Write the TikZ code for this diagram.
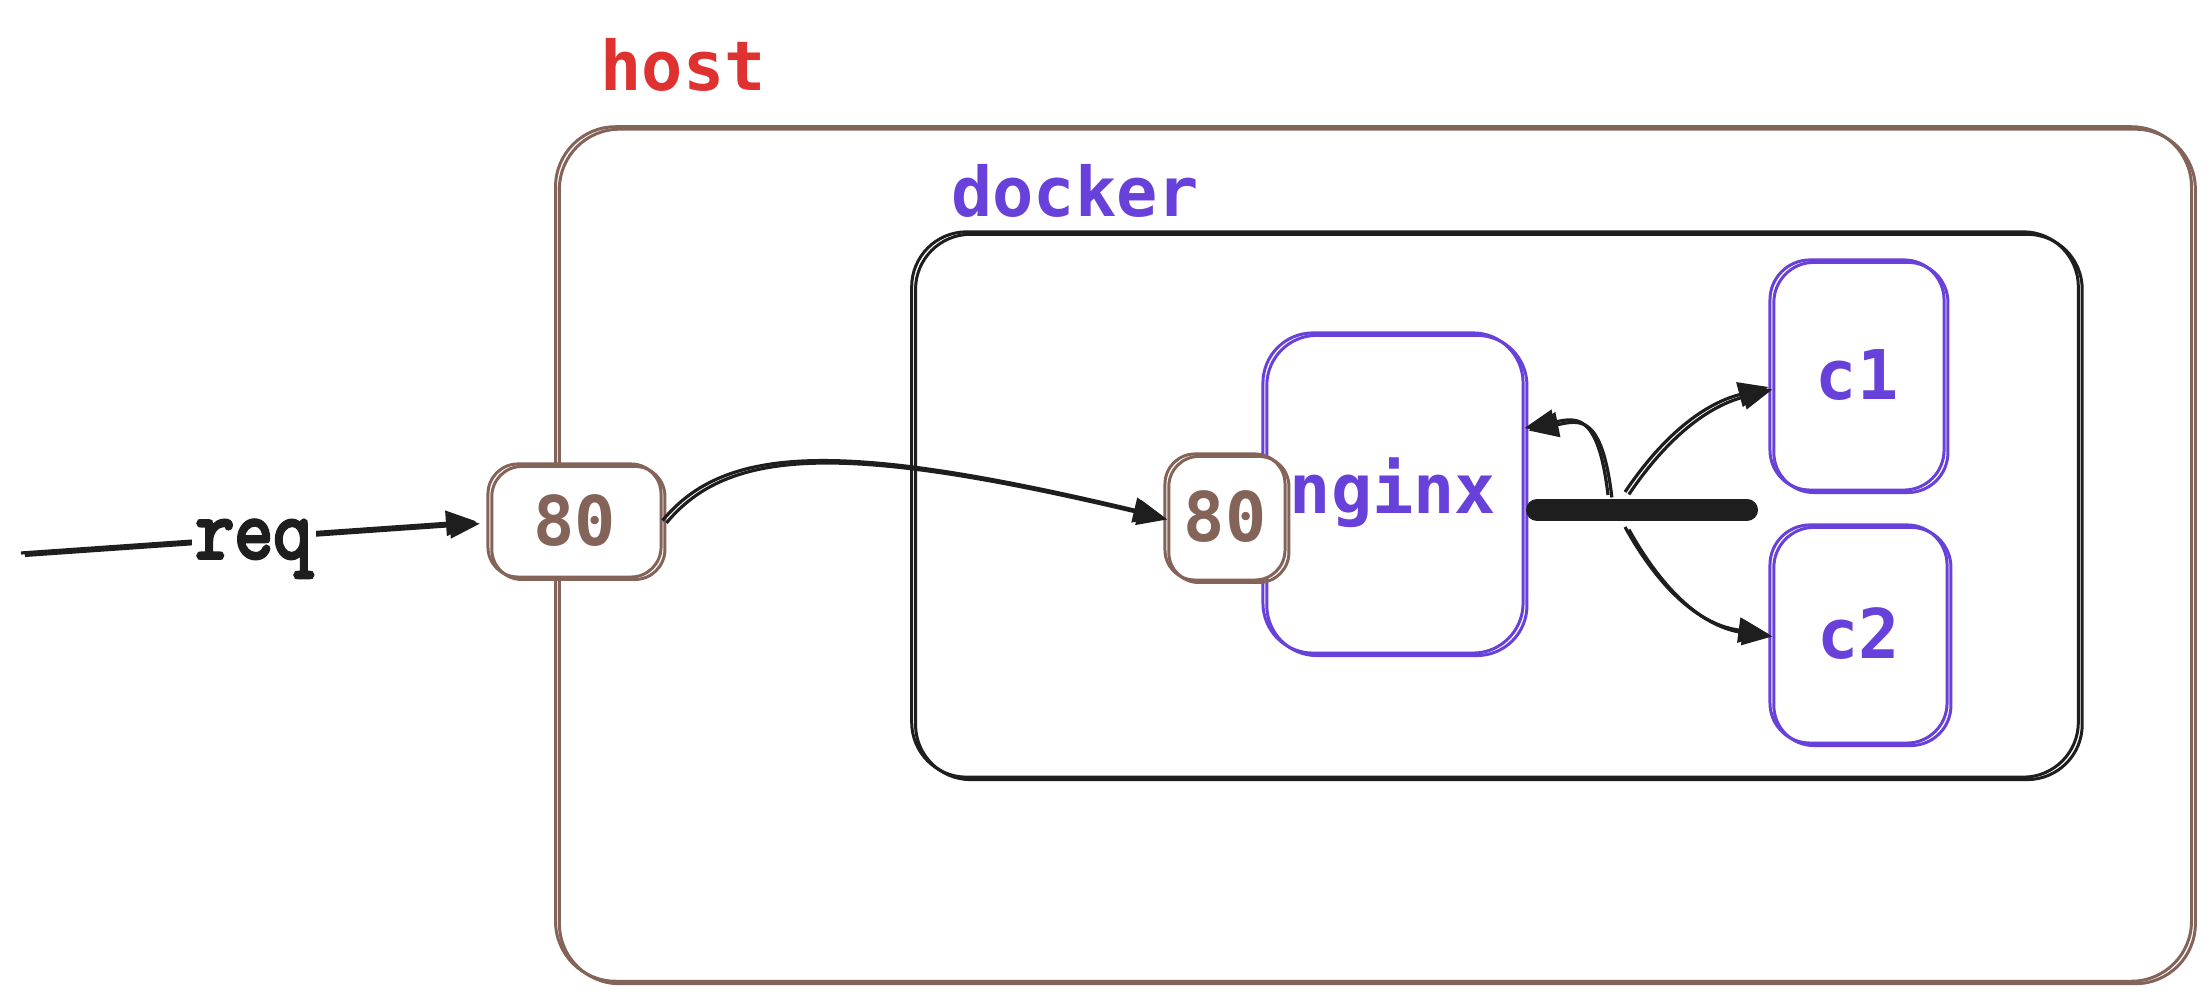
\documentclass[tikz,border=0pt]{standalone}
\usepackage{fontspec}
\setmonofont{DejaVu Sans Mono}
\newfontfamily\reqfont{Latin Modern Mono}[FakeBold=4]
\usetikzlibrary{arrows.meta,calc}
\definecolor{hostred}{HTML}{E03131}
\definecolor{brownc}{HTML}{846358}
\definecolor{purplec}{HTML}{6741D9}
\definecolor{inkc}{HTML}{1E1E1E}
\tikzset{
  sk/.style={postaction={draw, transform canvas={xshift=1.1pt,yshift=-0.7pt}}},
  box/.style={draw, line width=0.85pt, sk, inner sep=0pt},
  hostbox/.style={box, draw=brownc, rounded corners=0.6cm},
  dockbox/.style={box, draw=inkc, rounded corners=0.55cm},
  ctrbox/.style={box, draw=purplec, rounded corners=0.5cm, text=purplec},
  portbox/.style={box, draw=brownc, fill=white, rounded corners=0.3cm, text=brownc},
  txt/.style={font=\ttfamily\bfseries\fontsize{19.5}{23}\selectfont},
  arr/.style={-{Triangle[length=0.3cm,width=0.25cm]}, line width=0.9pt, draw=inkc, sk},
}
\begin{document}
\begin{tikzpicture}[x=0.01cm,y=-0.01cm]
\useasboundingbox[fill=white] (0,0) rectangle (2206,1001);
% containers
\node[hostbox, minimum width=16.35cm, minimum height=8.54cm] (host) at (1373.5,554) {};
\node[txt, text=hostred] (hostlbl) at (683,65) {host};
\node[dockbox, minimum width=11.66cm, minimum height=5.45cm] (docker) at (1495,504.5) {};
\node[txt, text=purplec] (docklbl) at (1075,191) {docker};
\node[ctrbox, txt, minimum width=2.60cm, minimum height=3.20cm] (nginx) at (1393,493) {nginx};
\node[ctrbox, txt, minimum width=1.74cm, minimum height=2.30cm, rounded corners=0.4cm] (c1) at (1857,375) {c1};
\node[ctrbox, txt, minimum width=1.77cm, minimum height=2.18cm, rounded corners=0.4cm] (c2) at (1858.5,634) {c2};
% ports
\node[portbox, txt, minimum width=1.73cm, minimum height=1.13cm] (pa) at (574.5,520.5) {80};
\node[portbox, txt, minimum width=1.20cm, minimum height=1.26cm] (pb) at (1225,517) {80};
% bus bar
\coordinate (busl) at (1537,510);
\coordinate (busr) at (1747,510);
\draw[inkc, line width=0.22cm, line cap=round] (busl) -- (busr);
\coordinate (bus1) at (1608,495);
\coordinate (bus2) at (1625,492);
\coordinate (bus3) at (1625,527);
% connectors
\coordinate (reqstart) at (21,553);
\draw[arr, shorten >=3pt] (reqstart) -- node[fill=white, inner sep=1pt, yshift=-0.12cm, text=inkc, font=\reqfont\fontsize{21.5}{24}\selectfont] (reqlbl) {\scalebox{1}[1.15]{req}} (pa.west);
\draw[arr] (pa.east) .. controls (725,445) and (840,440) .. (pb.west);
\draw[arr] (bus1) .. controls (1598,410) and (1575,418) .. ($(nginx.east)+(0,-65)$);
\draw[arr] (bus2) .. controls (1660,440) and (1700,405) .. ($(c1.west)+(0,12)$);
\draw[arr] (bus3) .. controls (1660,590) and (1700,625) .. (c2.west);
\end{tikzpicture}
\end{document}
